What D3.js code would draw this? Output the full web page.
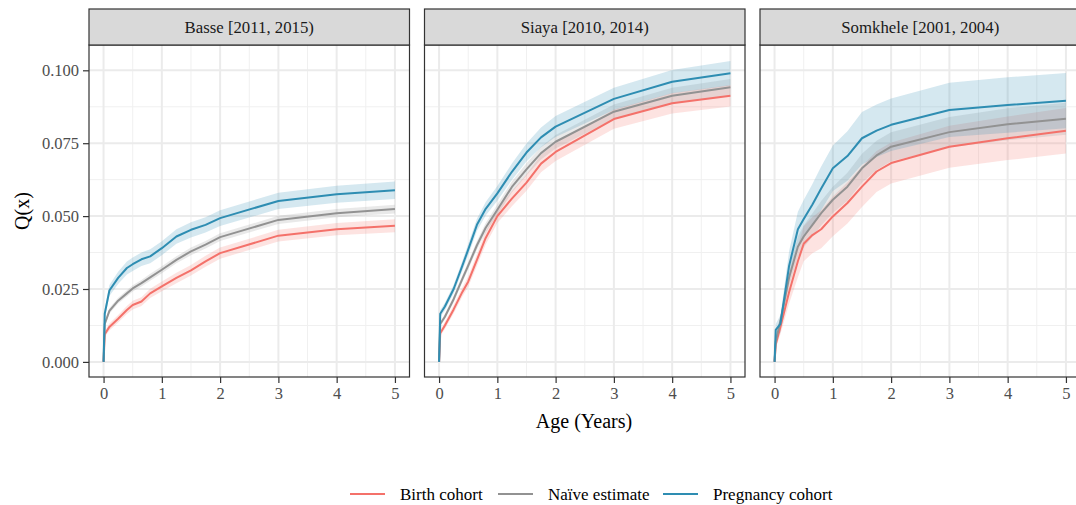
<!DOCTYPE html>
<html>
<head>
<meta charset="utf-8">
<script src="https://cdn.jsdelivr.net/npm/d3@7"></script>
<style>
  html, body { margin: 0; padding: 0; background: #ffffff; }
  svg { display: block; font-family: "Liberation Serif", "DejaVu Serif", serif; }
</style>
</head>
<body>
<svg id="chart" width="1076" height="505"></svg>
<script>
// Cumulative mortality Q(x) by age, three surveillance sites, three estimators.
const ages = [0, 0.02, 0.1, 0.25, 0.4, 0.5, 0.65, 0.8, 1, 1.25, 1.5, 1.75, 2, 3, 4, 5];

const sites = ["Basse [2011, 2015)", "Siaya [2010, 2014)", "Somkhele [2001, 2004)"];
const seriesNames = ["Birth cohort", "Naïve estimate", "Pregnancy cohort"];
const seriesColors = ["#F4716A", "#929292", "#2E8DB2"];

const yTicks = [0, 0.025, 0.05, 0.075, 0.1];
const xTicks = [0, 1, 2, 3, 4, 5];

// Basse
const basseBirth     = [0, 0.0095, 0.0120, 0.0148, 0.0178, 0.0195, 0.0207, 0.0235, 0.0259, 0.0288, 0.0314, 0.0345, 0.0373, 0.0433, 0.0455, 0.0467];
const basseBirthCI   = [0, 0.0010, 0.0012, 0.0013, 0.0014, 0.0015, 0.0015, 0.0016, 0.0017, 0.0018, 0.0018, 0.0019, 0.0019, 0.0020, 0.0021, 0.0022];
const basseNaive     = [0, 0.0130, 0.0175, 0.0210, 0.0235, 0.0252, 0.0270, 0.0290, 0.0316, 0.0350, 0.0379, 0.0402, 0.0428, 0.0487, 0.0510, 0.0524];
const basseNaiveCI   = [0, 0.0009, 0.0010, 0.0010, 0.0011, 0.0011, 0.0011, 0.0012, 0.0012, 0.0012, 0.0013, 0.0013, 0.0013, 0.0014, 0.0014, 0.0015];
const bassePreg      = [0, 0.0165, 0.0245, 0.0288, 0.0322, 0.0335, 0.0352, 0.0362, 0.0390, 0.0430, 0.0453, 0.0470, 0.0493, 0.0552, 0.0575, 0.0589];
const bassePregCI    = [0, 0.0016, 0.0019, 0.0021, 0.0022, 0.0023, 0.0023, 0.0024, 0.0024, 0.0025, 0.0026, 0.0026, 0.0027, 0.0028, 0.0029, 0.0030];

// Siaya
const siayaBirth     = [0, 0.0098, 0.0125, 0.0180, 0.0240, 0.0275, 0.0350, 0.0425, 0.0500, 0.0560, 0.0615, 0.0680, 0.0720, 0.0833, 0.0887, 0.0913];
const siayaBirthCI   = [0, 0.0010, 0.0012, 0.0014, 0.0016, 0.0018, 0.0020, 0.0022, 0.0024, 0.0026, 0.0028, 0.0030, 0.0031, 0.0033, 0.0035, 0.0037];
const siayaNaive     = [0, 0.0130, 0.0155, 0.0215, 0.0285, 0.0330, 0.0400, 0.0460, 0.0522, 0.0600, 0.0660, 0.0716, 0.0755, 0.0858, 0.0913, 0.0942];
const siayaNaiveCI   = [0, 0.0008, 0.0009, 0.0011, 0.0012, 0.0013, 0.0015, 0.0016, 0.0018, 0.0019, 0.0021, 0.0022, 0.0023, 0.0025, 0.0027, 0.0028];
const siayaPreg      = [0, 0.0165, 0.0190, 0.0250, 0.0330, 0.0385, 0.0470, 0.0525, 0.0578, 0.0652, 0.0718, 0.0770, 0.0807, 0.0902, 0.0961, 0.0990];
const siayaPregCI    = [0, 0.0012, 0.0013, 0.0015, 0.0017, 0.0019, 0.0021, 0.0023, 0.0025, 0.0028, 0.0031, 0.0034, 0.0036, 0.0038, 0.0040, 0.0042];

// Somkhele
const somkheleBirth   = [0, 0.0060, 0.0120, 0.0240, 0.0345, 0.0405, 0.0435, 0.0455, 0.0499, 0.0545, 0.0601, 0.0653, 0.0682, 0.0738, 0.0767, 0.0793];
const somkheleBirthCI = [0, 0.0015, 0.0025, 0.0040, 0.0055, 0.0060, 0.0062, 0.0065, 0.0068, 0.0070, 0.0070, 0.0070, 0.0070, 0.0072, 0.0075, 0.0078];
const somkheleNaive   = [0, 0.0070, 0.0140, 0.0290, 0.0395, 0.0430, 0.0470, 0.0510, 0.0556, 0.0601, 0.0664, 0.0708, 0.0738, 0.0788, 0.0815, 0.0834];
const somkheleNaiveCI = [0, 0.0015, 0.0020, 0.0030, 0.0035, 0.0038, 0.0040, 0.0042, 0.0045, 0.0048, 0.0050, 0.0050, 0.0050, 0.0052, 0.0055, 0.0055];
const somkhelePreg    = [0, 0.0110, 0.0130, 0.0330, 0.0455, 0.0490, 0.0540, 0.0595, 0.0664, 0.0706, 0.0767, 0.0793, 0.0813, 0.0864, 0.0881, 0.0896];
const somkhelePregCI  = [0, 0.0020, 0.0030, 0.0050, 0.0060, 0.0065, 0.0070, 0.0075, 0.0078, 0.0085, 0.0090, 0.0090, 0.0090, 0.0093, 0.0095, 0.0095];

const panelSeries = [
  [[basseBirth, basseBirthCI], [basseNaive, basseNaiveCI], [bassePreg, bassePregCI]],
  [[siayaBirth, siayaBirthCI], [siayaNaive, siayaNaiveCI], [siayaPreg, siayaPregCI]],
  [[somkheleBirth, somkheleBirthCI], [somkheleNaive, somkheleNaiveCI], [somkhelePreg, somkhelePregCI]]
];

const svg = d3.select("#chart");

// Layout
const panelLeft0 = 89, panelW = 320.5, panelGap = 15;
const stripTop = 9, stripH = 36;
const panelTop = stripTop + stripH, panelBottom = 377;

const y = d3.scaleLinear().domain([-0.00518, 0.10868]).range([panelBottom, panelTop]);

const minorY = [0.0125, 0.0375, 0.0625, 0.0875];
const minorX = [0.5, 1.5, 2.5, 3.5, 4.5];

sites.forEach((site, p) => {
  const left = panelLeft0 + p * (panelW + panelGap);
  const x = d3.scaleLinear().domain([-0.25, 5.25]).range([left, left + panelW]);
  const g = svg.append("g");

  // background
  g.append("rect").attr("x", left).attr("y", panelTop)
    .attr("width", panelW).attr("height", panelBottom - panelTop).attr("fill", "#ffffff");

  // grid
  g.selectAll(".minY").data(minorY).join("line")
    .attr("x1", left).attr("x2", left + panelW)
    .attr("y1", d => y(d)).attr("y2", d => y(d))
    .attr("stroke", "#F0F0F0").attr("stroke-width", 1);
  g.selectAll(".minX").data(minorX).join("line")
    .attr("y1", panelTop).attr("y2", panelBottom)
    .attr("x1", d => x(d)).attr("x2", d => x(d))
    .attr("stroke", "#F0F0F0").attr("stroke-width", 1);
  g.selectAll(".majY").data(yTicks).join("line")
    .attr("x1", left).attr("x2", left + panelW)
    .attr("y1", d => y(d)).attr("y2", d => y(d))
    .attr("stroke", "#EBEBEB").attr("stroke-width", 2);
  g.selectAll(".majX").data(xTicks).join("line")
    .attr("y1", panelTop).attr("y2", panelBottom)
    .attr("x1", d => x(d)).attr("x2", d => x(d))
    .attr("stroke", "#EBEBEB").attr("stroke-width", 2);

  // confidence ribbons
  panelSeries[p].forEach(([est, ci], s) => {
    const area = d3.area()
      .x((d, i) => x(ages[i]))
      .y0((d, i) => y(Math.max(0, est[i] - ci[i])))
      .y1((d, i) => y(est[i] + ci[i]));
    g.append("path").datum(est).attr("d", area)
      .attr("fill", seriesColors[s]).attr("fill-opacity", 0.2);
  });

  // estimate lines
  panelSeries[p].forEach(([est], s) => {
    const line = d3.line().x((d, i) => x(ages[i])).y(d => y(d));
    g.append("path").datum(est).attr("d", line)
      .attr("fill", "none").attr("stroke", seriesColors[s])
      .attr("stroke-width", 2).attr("stroke-linejoin", "round");
  });

  // panel border
  g.append("rect").attr("x", left).attr("y", panelTop)
    .attr("width", panelW).attr("height", panelBottom - panelTop)
    .attr("fill", "none").attr("stroke", "#333333").attr("stroke-width", 1.2);

  // strip
  g.append("rect").attr("x", left).attr("y", stripTop)
    .attr("width", panelW).attr("height", stripH)
    .attr("fill", "#D9D9D9").attr("stroke", "#333333").attr("stroke-width", 1.2);
  g.append("text").attr("x", left + panelW / 2).attr("y", stripTop + stripH / 2)
    .attr("text-anchor", "middle").attr("dominant-baseline", "central")
    .attr("font-size", 16.8).attr("fill", "#1A1A1A").text(site);

  // x axis
  const xAxis = d3.axisBottom(x).tickValues(xTicks).tickFormat(d3.format("d"))
    .tickSize(6).tickPadding(4);
  const xa = g.append("g").attr("transform", `translate(0,${panelBottom})`).call(xAxis);
  xa.select(".domain").remove();
  xa.selectAll("line").attr("stroke", "#333333").attr("stroke-width", 1.2);
  xa.selectAll("text").attr("font-size", 16.5).attr("fill", "#4D4D4D")
    .attr("font-family", "Liberation Serif");

  // y axis on first panel only
  if (p === 0) {
    const yAxis = d3.axisLeft(y).tickValues(yTicks).tickFormat(d3.format(".3f"))
      .tickSize(6).tickPadding(4);
    const ya = g.append("g").attr("transform", `translate(${left},0)`).call(yAxis);
    ya.select(".domain").remove();
    ya.selectAll("line").attr("stroke", "#333333").attr("stroke-width", 1.2);
    ya.selectAll("text").attr("font-size", 16.5).attr("fill", "#4D4D4D")
      .attr("font-family", "Liberation Serif");
  }
});

// axis titles
svg.append("text").attr("x", 584).attr("y", 421)
  .attr("text-anchor", "middle").attr("dominant-baseline", "central")
  .attr("font-size", 20).attr("fill", "#000").text("Age (Years)");
svg.append("text")
  .attr("transform", `translate(22,${(panelTop + panelBottom) / 2}) rotate(-90)`)
  .attr("text-anchor", "middle").attr("dominant-baseline", "central")
  .attr("font-size", 20).attr("fill", "#000").text("Q(x)");

// legend
const legendX = [350, 498, 663];
const legend = svg.append("g");
seriesNames.forEach((name, s) => {
  legend.append("line").attr("x1", legendX[s]).attr("x2", legendX[s] + 35)
    .attr("y1", 494).attr("y2", 494)
    .attr("stroke", seriesColors[s]).attr("stroke-width", 2);
  legend.append("text").attr("x", legendX[s] + 50).attr("y", 494)
    .attr("dominant-baseline", "central").attr("font-size", 17)
    .attr("fill", "#000").text(name);
});
</script>
</body>
</html>
